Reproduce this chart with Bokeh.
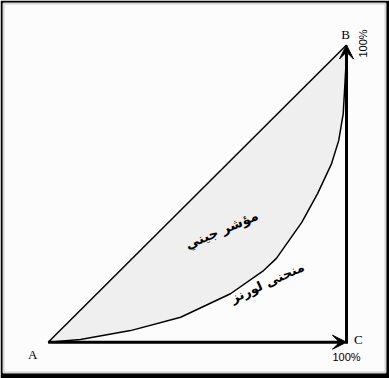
from bokeh.plotting import figure
from bokeh.models import Arrow, VeeHead, Range1d
from bokeh.core.properties import value
from bokeh.embed import file_html
from bokeh.resources import INLINE

# Lorenz curve (cumulative % of population vs cumulative % of income)
lorenz_x = [0, 10.8, 27.6, 44.4, 61.1, 72.2, 76.5, 85.0, 90.3, 95.0, 97.4, 98.9, 99.4, 99.8, 100]
lorenz_y = [0, 0.9, 3.9, 8.4, 16.3, 24.1, 28.2, 40.3, 50.0, 60.1, 67.9, 76.9, 85.7, 93.1, 100]

# equality line A -> B
equal_x = [0, 100]
equal_y = [0, 100]

# corner labels
corner_labels = ["A", "B", "C"]
corner_x = [-5.2, 99.7, 104.0]
corner_y = [-4.1, 103.5, 0.9]

pct_label = "100%"
gini_label = "مؤشر جيني"
lorenz_label = "منحنى لورنز"

p = figure(width=389, height=378, output_backend="svg", toolbar_location=None,
           x_range=Range1d(-14.985, 113.07), y_range=Range1d(-10.195, 113.96),
           min_border_left=3, min_border_top=3, min_border_right=4, min_border_bottom=6,
           border_fill_color="black", background_fill_color="#fcfcfc",
           outline_line_color="#d4d4d4", outline_line_width=2,
           styles={"position": "absolute", "left": "0px", "top": "0px"})
p.axis.visible = False
p.grid.visible = False

# shaded area between equality line and Lorenz curve
patch_x = list(equal_x) + list(reversed(lorenz_x))
patch_y = list(equal_y) + list(reversed(lorenz_y))
p.patch(patch_x, patch_y, fill_color="#efefef", line_color=None)

p.line(equal_x, equal_y, line_color="black", line_width=1.5)
p.line(lorenz_x, lorenz_y, line_color="black", line_width=1.5, line_join="round")

# axes with arrowheads
p.add_layout(Arrow(x_start=0, y_start=0, x_end=100, y_end=0, line_width=3, line_color="black",
                   end=VeeHead(size=14, fill_color="black", line_color="black")))
p.add_layout(Arrow(x_start=100, y_start=0, x_end=100, y_end=100, line_width=3, line_color="black",
                   line_cap="square",
                   end=VeeHead(size=14, fill_color="black", line_color="black")))

p.text(corner_x, corner_y, text=corner_labels, text_font=value("Liberation Serif"),
       text_font_size="13px", text_align="center", text_baseline="middle", text_color="black")

p.text([100], [-5.1], text=[pct_label], text_font=value("Liberation Sans"),
       text_font_size="11px", text_align="center", text_baseline="middle", text_color="black")
p.text([105.4], [100.5], text=[pct_label], text_font=value("Liberation Sans"),
       text_font_size="11px", text_align="center", text_baseline="middle", text_color="black",
       angle=1.5708)

p.text([58.1], [37.9], text=[gini_label], text_font=value("DejaVu Sans"), text_font_style="bold",
       text_font_size="13.5px", text_align="center", text_baseline="middle", text_color="black",
       angle=0.40)
p.text([73.5], [20.1], text=[lorenz_label], text_font=value("DejaVu Sans"), text_font_style="bold",
       text_font_size="13px", text_align="center", text_baseline="middle", text_color="black",
       angle=0.43)

open("out.html", "w").write(file_html(p, INLINE))
